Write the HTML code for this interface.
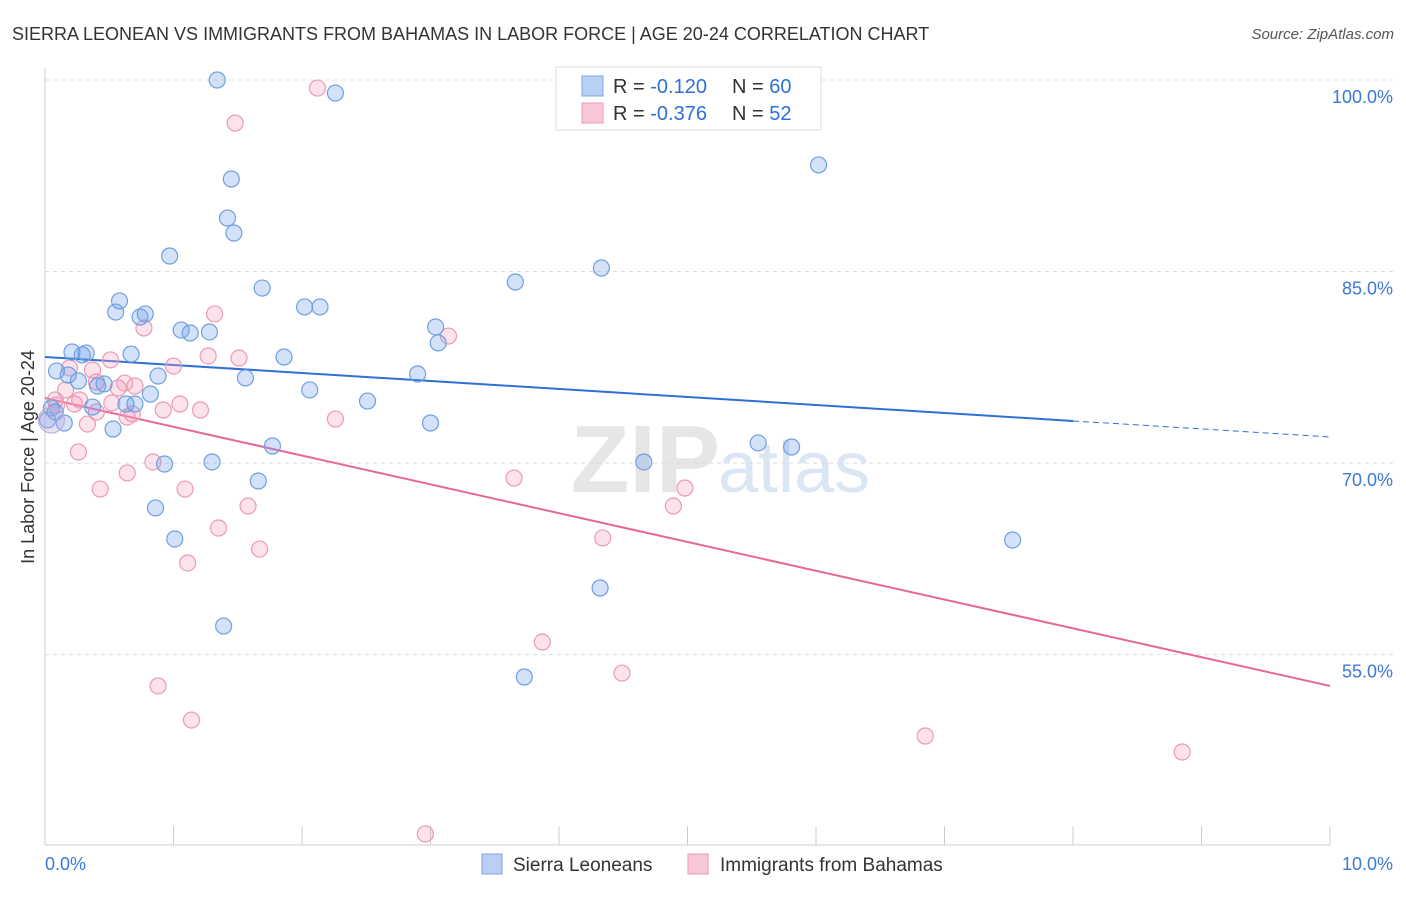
<!DOCTYPE html>
<html><head><meta charset="utf-8">
<style>
body{margin:0;background:#fff;font-family:"Liberation Sans",sans-serif;}
svg text{font-family:"Liberation Sans",sans-serif;}
</style></head>
<body>
<svg id="chart" width="1406" height="892" xmlns="http://www.w3.org/2000/svg">
<text x="12" y="40" font-size="18" fill="#333">SIERRA LEONEAN VS IMMIGRANTS FROM BAHAMAS IN LABOR FORCE | AGE 20-24 CORRELATION CHART</text>
<text x="1394" y="39" font-size="15" fill="#555" font-style="italic" text-anchor="end">Source: ZipAtlas.com</text>
<text x="720" y="492" font-size="96" fill="#e6e6e6" text-anchor="end" font-family="Liberation Serif" font-weight="bold">ZIP</text>
<text x="718" y="492" font-size="72" fill="#dbe6f5">atlas</text>
<g id="grid"></g>
<g id="axes"></g>
<g id="lines"></g>
<g id="points"></g>
<text transform="translate(34,457) rotate(-90)" font-size="18" fill="#333" text-anchor="middle">In Labor Force | Age 20-24</text>
<g>
<rect x="556" y="67" width="265" height="63" fill="#fff" stroke="#ddd"/>
<rect x="582" y="76" width="21" height="20" fill="#b7d0f4" stroke="#7fa6e3"/>
<text x="613" y="93" font-size="20" fill="#333">R = <tspan fill="#2f6fd6">-0.120</tspan></text>
<text x="732" y="93" font-size="20" fill="#333">N = <tspan fill="#2f6fd6">60</tspan></text>
<rect x="582" y="103" width="21" height="20" fill="#f9c8d8" stroke="#ec9ab5"/>
<text x="613" y="120" font-size="20" fill="#333">R = <tspan fill="#2f6fd6">-0.376</tspan></text>
<text x="732" y="120" font-size="20" fill="#333">N = <tspan fill="#2f6fd6"> 52</tspan></text>
</g>
<g>
<rect x="482" y="854" width="20" height="20" fill="#b7d0f4" stroke="#7fa6e3"/>
<text x="513" y="871" font-size="19" fill="#333">Sierra Leoneans</text>
<rect x="688" y="854" width="20" height="20" fill="#f9c8d8" stroke="#ec9ab5"/>
<text x="720" y="871" font-size="19" fill="#333">Immigrants from Bahamas</text>
</g>
</svg>
<script>
const blueX=[1.34,2.26,6.02,1.45,1.42,1.47,0.97,4.33,3.66,1.69,0.58,0.55,0.78,0.74,2.02,2.14,1.06,1.13,1.28,3.04,3.06,0.21,0.32,0.29,0.67,1.86,0.09,0.18,0.26,0.88,1.56,2.90,2.06,2.51,0.41,0.46,0.82,0.37,0.63,0.70,0.08,0.05,0.15,0.53,3.00,1.77,5.55,5.81,0.93,1.30,4.66,1.66,0.86,1.01,7.53,4.32,1.39,3.73,0.02];
const blueY=[101.33,100.31,94.68,93.58,90.52,89.35,87.55,86.61,85.51,85.04,84.03,83.16,83.01,82.77,83.56,83.56,81.75,81.52,81.60,81.99,80.74,80.03,79.95,79.80,79.87,79.64,78.54,78.23,77.76,78.15,78.00,78.31,77.06,76.19,77.37,77.53,76.74,75.72,75.96,75.96,75.33,75.65,74.47,74.00,74.47,72.67,72.91,72.59,71.26,71.42,71.42,69.93,67.82,65.39,65.31,61.55,58.57,54.58,74.71];
const pinkX=[2.12,5.20,1.48,1.32,0.77,3.14,0.51,1.27,1.51,1.00,0.37,0.19,0.16,0.40,0.62,0.57,0.70,0.27,0.23,0.09,0.52,0.64,0.68,0.92,1.05,1.21,2.26,0.33,0.40,0.26,0.84,0.64,0.43,1.09,3.65,4.98,4.89,1.58,1.35,4.34,1.67,1.11,3.87,4.49,0.88,1.14,6.85,8.85,2.96,0.08];
const pinkY=[100.70,101.33,97.96,83.01,81.91,81.28,79.41,79.72,79.56,78.93,78.62,78.78,77.06,77.68,77.60,77.21,77.37,76.27,75.96,75.88,76.04,74.94,75.18,75.49,75.96,75.49,74.78,74.39,75.33,72.20,71.42,70.56,69.30,69.30,70.16,69.38,67.97,67.97,66.25,65.47,64.60,63.51,57.32,54.89,53.88,51.21,49.96,48.71,42.29,76.27];
const blueTrend=[79.64,73.38];
const pinkTrend=[76.43,53.88];
const yTicks=[100,85,70,55];
const yTickLabels=["100.0%","85.0%","70.0%","55.0%"];
const xTickLabels=["0.0%","10.0%"];

const NS="http://www.w3.org/2000/svg";
const xs=v=>45+v*128.5;
const ys=v=>97+(100-v)*12.77;
function mk(tag,attrs,parent){const e=document.createElementNS(NS,tag);for(const k in attrs)e.setAttribute(k,attrs[k]);parent.appendChild(e);return e;}
const grid=document.getElementById('grid'),axes=document.getElementById('axes'),lines=document.getElementById('lines'),pts=document.getElementById('points');
mk('line',{x1:45,y1:68,x2:45,y2:845,stroke:'#ccc'},axes);
mk('line',{x1:45,y1:845,x2:1330,y2:845,stroke:'#ccc'},axes);
for(let i=0;i<=10;i++){
 const t=mk('line',{x1:xs(i),y1:826,x2:xs(i),y2:845,stroke:'#ccc'},axes);
 
 
}
yTicks.forEach((v,i)=>{
 const g=mk('line',{x1:45,y1:ys(v)-17,x2:1394,y2:ys(v)-17,stroke:'#ddd','stroke-dasharray':'4,4'},grid);
 
 
 const t=mk('text',{x:1393,y:ys(v)+6,'font-size':18,fill:'#3b78d8','text-anchor':'end'},axes);
 t.textContent=yTickLabels[i];
 
 
});
[[0,'start',45],[10,'end',1393]].forEach((a,i)=>{
 const t=mk('text',{x:a[2],y:870,'font-size':18,fill:'#3b78d8','text-anchor':a[1]},axes);
 t.textContent=xTickLabels[i];
 
 
});
// trend lines
const b8=blueTrend[0]+(blueTrend[1]-blueTrend[0])*0.8;
let l=mk('line',{x1:xs(0),y1:ys(blueTrend[0]),x2:xs(8),y2:ys(b8),stroke:'#2f6fd6','stroke-width':2},lines);


l=mk('line',{x1:xs(8),y1:ys(b8),x2:xs(10),y2:ys(blueTrend[1]),stroke:'#2f6fd6','stroke-width':1,'stroke-dasharray':'6,4'},lines);


l=mk('line',{x1:xs(0),y1:ys(pinkTrend[0]),x2:xs(10),y2:ys(pinkTrend[1]),stroke:'#e8679a','stroke-width':2},lines);


function dots(X,Y,fill,stroke,name){
 X.forEach((x,i)=>{
  const c=mk('circle',{cx:xs(x),cy:ys(Y[i]),r:8,fill:fill,stroke:stroke,'stroke-width':1.2},pts);
  
  
 });
}
dots(pinkX,pinkY,'rgba(245,160,190,0.3)','#eb9ab6','bahamas-point');
dots(blueX,blueY,'rgba(110,160,235,0.3)','#6f9fe0','sierra-leonean-point');
const big=mk('circle',{cx:xs(0.05),cy:ys(74.7),r:13,fill:'rgba(180,170,220,0.35)',stroke:'#c0a8d8'},pts);


</script>
</body></html>
